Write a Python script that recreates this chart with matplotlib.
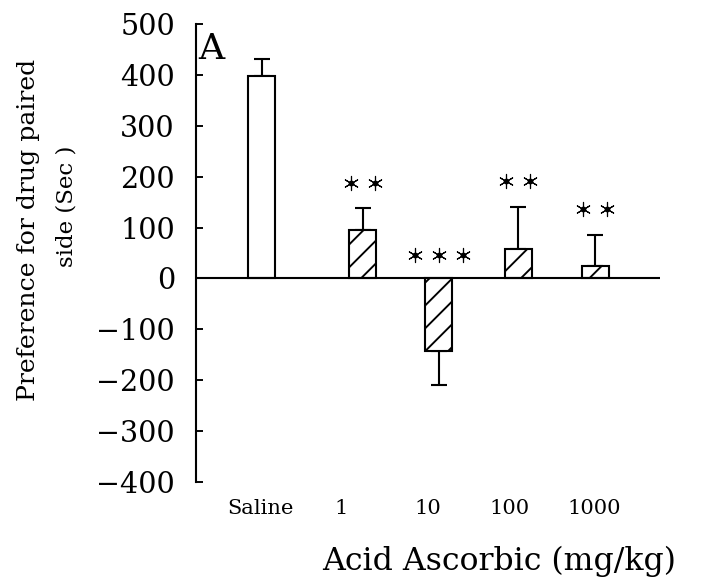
import matplotlib
matplotlib.use("Agg")
import matplotlib.pyplot as plt

# data
groups = ["Saline", "1", "10", "100", "1000"]
means = [398, 95, -142, 57, 25]
sems = [33, 43, 67, 84, 61]
stars = ["", "**", "***", "**", "**"]

# layout (x in axis units, 1 unit = 100 px)
bar_x = [0.655, 1.665, 2.425, 3.22, 3.99]
label_x = [0.64, 1.45, 2.32, 3.13, 3.98]
hatches = ["", "//", "//", "//", "//"]

plt.rcParams["font.family"] = ["DejaVu Serif"]
plt.rcParams["hatch.linewidth"] = 1.0

DPI = 137.5
fig = plt.figure(figsize=(715 / DPI, 584 / DPI), dpi=DPI)
ax = fig.add_axes([196 / 715, 102 / 584, 500 / 715, 458 / 584])

ax.bar(bar_x, means, width=0.27, color="white", edgecolor="black",
       linewidth=1.1, hatch=hatches, zorder=3)

lower = [0 if m >= 0 else s for m, s in zip(means, sems)]
upper = [s if m >= 0 else 0 for m, s in zip(means, sems)]
ax.errorbar(bar_x, means, yerr=[lower, upper], fmt="none", ecolor="black",
            elinewidth=1.1, capsize=4, capthick=1.1, zorder=2)

ax.hlines(0, 0, 4.64, color="black", linewidth=1.1, zorder=4)

# significance asterisks
for x, m, s, st in zip(bar_x, means, sems, stars):
    n = len(st)
    if n == 0:
        continue
    top = max(m + s, 0) + 50 if m >= 0 else 47
    xs = [x + (i - (n - 1) / 2) * 0.24 for i in range(n)]
    ax.scatter(xs, [top] * n, marker=(6, 2, 0), s=55, color="black",
               linewidths=0.6, zorder=5)
    ax.scatter(xs, [top] * n, marker="o", s=4, color="black", zorder=5)

ax.set_xlim(0, 5.0)
ax.set_ylim(-400, 500)
ax.set_yticks(range(-400, 501, 100))
ax.tick_params(axis="y", direction="in", length=3.7, width=1.0, pad=11,
               labelsize=15)
ax.set_xticks(label_x)
ax.set_xticklabels(groups)
ax.tick_params(axis="x", length=0, pad=9, labelsize=11)

for side in ["top", "right", "bottom"]:
    ax.spines[side].set_visible(False)
ax.spines["left"].set_linewidth(1.1)

ax.text(0.026, 451, "A", fontsize=19, ha="left", va="center")

fig.text(29 / 715, 1 - 230 / 584, "Preference for drug paired", rotation=90,
         ha="center", va="center", fontsize=13.2)
fig.text(67 / 715, 1 - 206 / 584, "side (Sec )", rotation=90,
         ha="center", va="center", fontsize=12)
fig.text(499 / 715, 1 - 561 / 584, "Acid Ascorbic (mg/kg)", ha="center",
         va="center", fontsize=16.5)

fig.savefig("out.png", dpi=DPI, facecolor="white")
